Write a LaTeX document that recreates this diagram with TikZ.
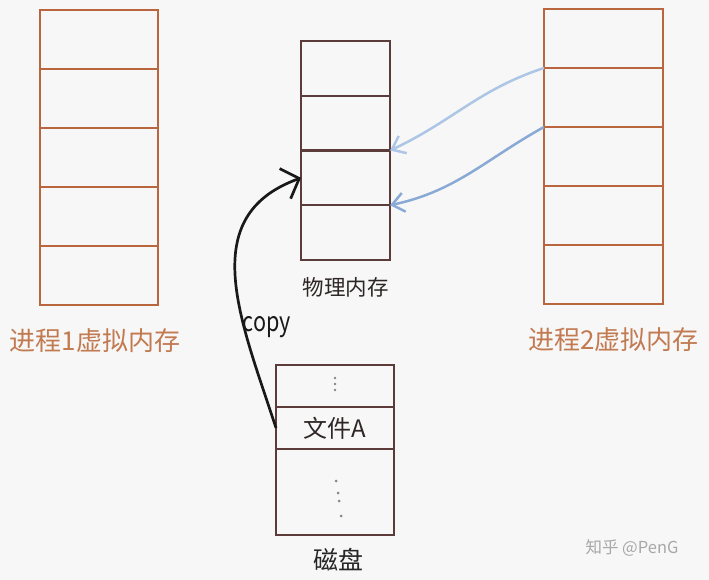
\documentclass[tikz,border=0pt]{standalone}
\usepackage{fontspec}
\newfontfamily\cjk{Noto Sans CJK SC}
\usepackage{tikz}
\usetikzlibrary{arrows.meta,positioning,calc}
\definecolor{vorange}{HTML}{B9663F}
\definecolor{vtext}{HTML}{C27A50}
\definecolor{pbrown}{HTML}{5C3B3B}
\definecolor{blueA}{HTML}{ADC6E5}
\definecolor{blueB}{HTML}{8AAAD6}
\definecolor{bgcol}{HTML}{F7F7F7}
\definecolor{inktext}{HTML}{2E2626}
\definecolor{marktext}{HTML}{A8A8A8}
\definecolor{dotcol}{HTML}{8C8282}

\begin{document}
\begin{tikzpicture}[
		x=1pt, y=1pt,
		vcell/.style={rectangle, draw=vorange, line width=2.8pt,
				minimum width=118pt, minimum height=59pt,
				inner sep=0pt, outer sep=0pt},
		pcell/.style={rectangle, draw=pbrown, line width=2.3pt,
				minimum width=89pt, minimum height=54.75pt,
				inner sep=0pt, outer sep=0pt},
		dcell/.style={rectangle, draw=pbrown, line width=2.3pt,
				minimum width=118pt, inner sep=0pt, outer sep=0pt},
		vlabel/.style={font=\cjk\fontsize{26}{30}\selectfont, text=vtext,
				inner sep=0pt},
		plabel/.style={font=\cjk\fontsize{21.5}{26}\selectfont, text=inktext,
				inner sep=0pt},
		maparr/.style={-{Straight Barb[length=12pt,width=19pt]}, line width=2.5pt},
		copyarr/.style={-{Straight Barb[length=15pt,width=32pt]}, line width=2.7pt,
				black!90},
	]

	% Hintergrund
	\fill[bgcol] (0,0) rectangle (709,-580);
	\useasboundingbox (0,0) rectangle (709,-580);

	% Prozess 1 virtueller Speicher
	\node[vcell, anchor=north west] (a1) at (40,-10) {};
	\node[vcell, below=0pt of a1] (a2) {};
	\node[vcell, below=0pt of a2] (a3) {};
	\node[vcell, below=0pt of a3] (a4) {};
	\node[vcell, below=0pt of a4] (a5) {};

	% Prozess 2 virtueller Speicher
	\node[vcell, anchor=north west, minimum width=119pt] (b1) at (544,-9) {};
	\node[vcell, minimum width=119pt, below=0pt of b1] (b2) {};
	\node[vcell, minimum width=119pt, below=0pt of b2] (b3) {};
	\node[vcell, minimum width=119pt, below=0pt of b3] (b4) {};
	\node[vcell, minimum width=119pt, below=0pt of b4] (b5) {};

	% physischer Speicher
	\node[pcell, anchor=north west] (p1) at (301,-41) {};
	\node[pcell, below=0pt of p1] (p2) {};
	\node[pcell, below=0pt of p2] (p3) {};
	\node[pcell, below=0pt of p3] (p4) {};

	% Festplatte
	\node[dcell, anchor=north west, minimum height=42pt] (d1) at (276,-365) {};
	\node[dcell, minimum height=42pt, below=0pt of d1,
		font=\cjk\fontsize{24}{28}\selectfont, text=inktext] (d2) {文件A};
	\node[dcell, minimum height=86pt, below=0pt of d2] (d3) {};

	% Punkte
	\fill[dotcol] ($(d1.center)+(0,8)$)  circle (1.3pt);
	\fill[dotcol] ($(d1.center)+(0,2)$)  circle (1.3pt);
	\fill[dotcol] ($(d1.center)+(0,-4)$) circle (1.3pt);
	\fill[dotcol] ($(d3.center)+(1,11)$)  circle (1.5pt);
	\fill[dotcol] ($(d3.center)+(3,-1)$)  circle (1.5pt);
	\fill[dotcol] ($(d3.center)+(4,-9)$)  circle (1.5pt);
	\fill[dotcol] ($(d3.center)+(6,-24)$) circle (1.5pt);

	% Beschriftungen
	\node[vlabel, below=23pt of a5, xshift=-4pt] (v1lbl) {进程1虚拟内存};
	\node[vlabel, below=23pt of b5, xshift=10pt] (v2lbl) {进程2虚拟内存};
	\node[plabel, below=17pt of p4] (plbl) {物理内存};
	\node[plabel, below=13pt of d3, xshift=3pt,
		font=\cjk\fontsize{25}{30}\selectfont, text=black!85] (dlbl) {磁盘};
	\node[font=\cjk\fontsize{16.5}{20}\selectfont, text=marktext]
	(mark) at (632,-548) {知乎 @PenG};

	% Abbildungen
	\draw[maparr, blueA] (b1.south west) to[out=198, in=25] (p2.south east);
	\draw[maparr, blueB] (b2.south west) to[out=209, in=12] (p3.south east);

	% Kopie
	\draw[copyarr] (d2.west) to[out=108, in=200, looseness=1.15] (p3.west);
	\node[font=\cjk\fontsize{27}{30}\selectfont, xscale=0.8, text=black!90]
	(copylbl) at (267,-327) {copy};

\end{tikzpicture}
\end{document}
